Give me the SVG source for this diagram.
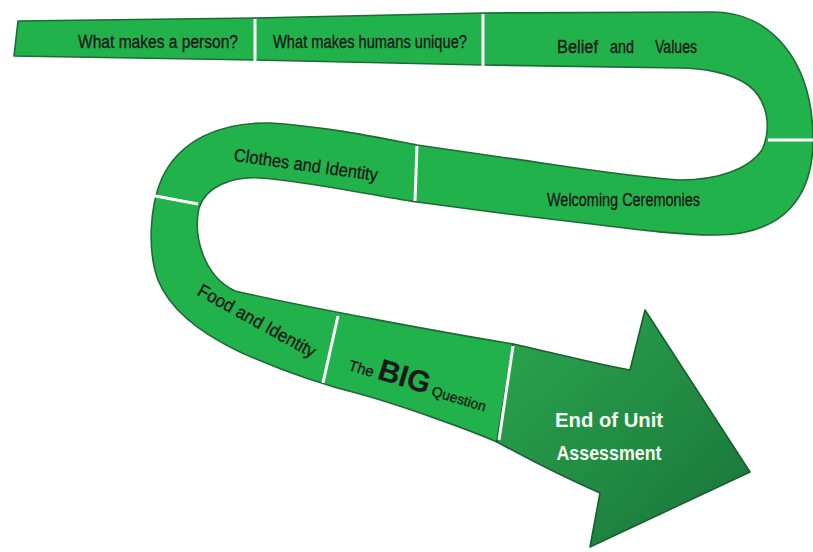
<svg xmlns="http://www.w3.org/2000/svg" width="813" height="552" viewBox="0 0 813 552">
<defs>
<linearGradient id="arrowGrad" x1="0" y1="0" x2="1" y2="1">
<stop offset="0" stop-color="#2ca64e"/>
<stop offset="1" stop-color="#18743a"/>
</linearGradient>
<style>
.band{fill:#22b24c;stroke:#1f6a35;stroke-width:1.6;stroke-linejoin:round}
.arrow{fill:url(#arrowGrad);stroke:#1a5e30;stroke-width:1.6;stroke-linejoin:round}
.div{stroke:#ffffff;stroke-width:3;fill:none;stroke-linecap:butt}
.lbl{font-family:"Liberation Sans","DejaVu Sans",sans-serif;font-size:18px;fill:#1a1a1a;stroke:#1a1a1a;stroke-width:0.35}
.end{font-family:"Liberation Sans","DejaVu Sans",sans-serif;font-size:20px;font-weight:bold;fill:#f4fff4}
</style>
</defs>
<rect width="813" height="552" fill="#ffffff"/>
<g id="road">
<path class="band" d="M18,21 L255,18 L483,13 L713,12 C770,12 813,60 813,140 C813,195 785,236 713,235 C680,235 640,230 600,225 L500,213 L417,202 C370,195 300,180 260,178 C230,176 205,188 199,208 C193,235 203,276 235,291 C300,306 440,332 513,344 L497,442 C470,430 400,405 360,394 C320,384 280,370 240,352 C200,333 170,310 158,280 C147,250 150,205 162,178 C180,140 220,122 270,123 C330,127 380,138 417,145 L500,157 C560,165 620,176 680,180 C720,180 750,168 762,150 C772,128 768,100 748,85 C730,72 700,68 680,68 L483,65 L255,60 L14,56 Z"/>
</g>
<g id="arrow">
<path class="arrow" d="M513,344 C550,352 600,365 630,370 L645,310 L750,472 L590,547 L600,493 C570,480 530,460 497,442 Z"/>
</g>
<g id="connectors">
<line class="div" x1="255" y1="19" x2="255" y2="61"/>
<line class="div" x1="483" y1="14" x2="483" y2="66"/>
<line class="div" x1="768" y1="140" x2="813" y2="140"/>
<line class="div" x1="417" y1="146" x2="415" y2="201"/>
<line class="div" x1="150" y1="195" x2="198" y2="204"/>
<line class="div" x1="338" y1="316" x2="323" y2="383"/>
<line class="div" x1="513" y1="346" x2="499" y2="440"/>
</g>
<g id="n1"><text class="lbl" x="78" y="48" textLength="160" lengthAdjust="spacingAndGlyphs">What makes a person?</text></g>
<g id="n2"><text class="lbl" x="273" y="48" textLength="194" lengthAdjust="spacingAndGlyphs">What makes humans unique?</text></g>
<g id="n3">
<text class="lbl" x="557" y="53" textLength="41" lengthAdjust="spacingAndGlyphs">Belief</text>
<text class="lbl" x="610" y="53" textLength="24" lengthAdjust="spacingAndGlyphs">and</text>
<text class="lbl" x="655" y="53" textLength="42" lengthAdjust="spacingAndGlyphs">Values</text>
</g>
<g id="n4"><text class="lbl" x="306" y="171" text-anchor="middle" textLength="145" lengthAdjust="spacingAndGlyphs" transform="rotate(8 306 165)">Clothes and Identity</text></g>
<g id="n5"><text class="lbl" x="547" y="206" textLength="153" lengthAdjust="spacingAndGlyphs">Welcoming Ceremonies</text></g>
<g id="n6"><text class="lbl" x="257" y="327" text-anchor="middle" textLength="132" lengthAdjust="spacingAndGlyphs" transform="rotate(29 257 321)">Food and Identity</text></g>
<g id="n7"><text class="lbl" x="418" y="391" text-anchor="middle" transform="rotate(17 418 384)"><tspan font-size="15">The </tspan><tspan font-size="30" font-weight="bold" stroke-width="0.2">BIG</tspan><tspan font-size="14"> Question</tspan></text></g>
<g id="n8">
<text class="end" x="609" y="427" text-anchor="middle" textLength="108" lengthAdjust="spacingAndGlyphs">End of Unit</text>
<text class="end" x="609" y="460" text-anchor="middle" textLength="105" lengthAdjust="spacingAndGlyphs">Assessment</text>
</g>
</svg>
